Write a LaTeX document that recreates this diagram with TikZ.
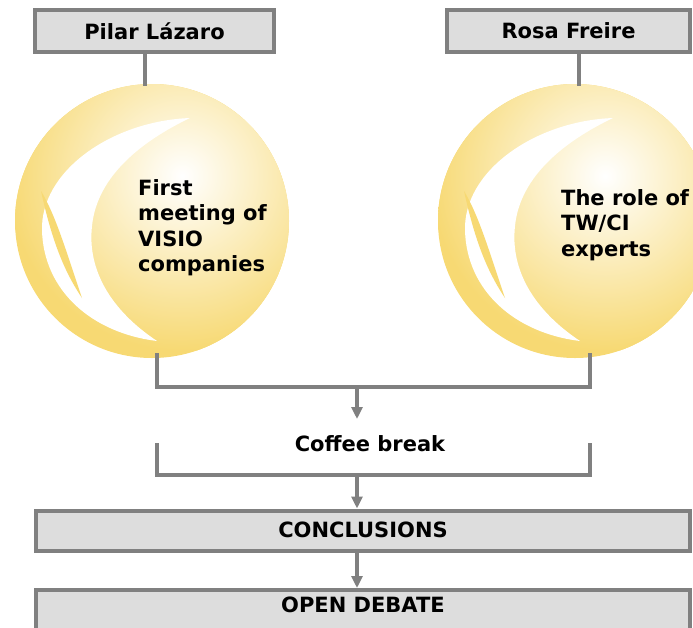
\documentclass[tikz,border=0pt]{standalone}
\usepackage{fontspec}
\setmainfont{DejaVu Sans}
\usetikzlibrary{arrows.meta}
\definecolor{ballyellow}{RGB}{247,217,115}
\definecolor{boxgray}{RGB}{221,221,221}
\definecolor{linegray}{RGB}{128,128,128}
% yellow ball with the white swoosh, drawn round a centre
\newcommand{\drawball}[1]{%
  \begin{scope}[shift={(#1)}]
    \fill[ballyellow] (0,0) circle (137);
    \begin{scope}
      \clip (0,0) circle (137);
      \shade[inner color=white, outer color=ballyellow] (30,-45) circle (175);
    \end{scope}
    \fill[white] (38,-103) .. controls (-40,-100) and (-112,-50) .. (-110,10)
      .. controls (-108,70) and (-60,112) .. (5,120)
      .. controls (-40,90) and (-65,50) .. (-60,5)
      .. controls (-55,-45) and (-10,-80) .. cycle;
    \fill[ballyellow] (-111,-30) .. controls (-96,-5) and (-86,30) .. (-70,77)
      .. controls (-88,50) and (-100,20) .. cycle;
  \end{scope}}

\begin{document}
\begin{tikzpicture}[x=1pt, y=-1pt, >={Triangle[length=12pt, width=11pt]},
  namebox/.style={draw=linegray, fill=boxgray, line width=4pt, minimum height=42pt,
    font=\fontsize{21}{25}\selectfont\bfseries},
  stagebox/.style={draw=linegray, fill=boxgray, line width=4pt, minimum width=654pt,
    inner ysep=7.5pt, text height=15pt, font=\fontsize{21}{25}\selectfont\bfseries},
  link/.style={draw=linegray, line width=3.5pt},
  talk/.style={align=left, anchor=north west, inner sep=0pt,
    font=\fontsize{21}{25.5}\selectfont\bfseries}]
  \useasboundingbox (0,0) rectangle (693,627);

  % the two talks
  \drawball{152,221}
  \drawball{575,221}
  \coordinate (stemL) at (145,86);
  \coordinate (stemR) at (579,86);
  \node[namebox, minimum width=239pt] (lazaro) at (154.5,31) {Pilar Lázaro};
  \node[namebox, minimum width=243pt] (freire) at (568.5,31) {Rosa Freire};
  \draw[link] (lazaro.south -| stemL) -- (stemL);
  \draw[link] (freire.south -| stemR) -- (stemR);
  \node[talk] (visio) at (138,179) {First\\meeting of\\VISIO\\companies};
  \node[talk] (twci) at (561,189) {The role of\\TW/CI\\experts};

  % coffee break
  \coordinate (b1l) at (157,353);
  \coordinate (b1r) at (590,353);
  \coordinate (b1m) at (357,387);
  \coordinate (c1) at (357,419);
  \draw[link] (b1l) |- (b1r |- b1m) -- (b1r);
  \draw[link, ->] (b1m) -- (c1);
  \node[font=\fontsize{21}{25}\selectfont\bfseries] (coffee) at (370,444) {Coffee break};
  \coordinate (b2l) at (157,443);
  \coordinate (b2r) at (590,443);
  \coordinate (b2m) at (357,475);
  \draw[link] (b2l) |- (b2r |- b2m) -- (b2r);

  % closing
  \node[stagebox, minimum height=40pt] (concl) at (363,530.5) {CONCLUSIONS};
  \node[stagebox, anchor=north, text depth=30pt] (debate) at (363,588) {OPEN DEBATE};
  \draw[link, ->] (b2m) -- (b2m |- concl.north);
  \draw[link, ->] (b2m |- concl.south) -- (b2m |- debate.north);
\end{tikzpicture}
\end{document}
